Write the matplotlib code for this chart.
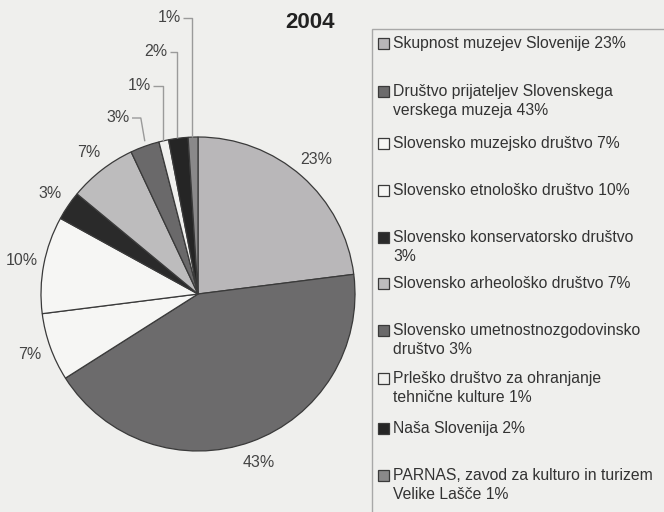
import matplotlib
matplotlib.use("Agg")
import matplotlib.pyplot as plt
from matplotlib.patches import Rectangle
import numpy as np

plt.rcParams['font.family'] = ['Liberation Sans', 'DejaVu Sans']

# ---- data ----
categories = [
    "Skupnost muzejev Slovenije",
    "Društvo prijateljev Slovenskega verskega muzeja",
    "Slovensko muzejsko društvo",
    "Slovensko etnološko društvo",
    "Slovensko konservatorsko društvo",
    "Slovensko arheološko društvo",
    "Slovensko umetnostnozgodovinsko društvo",
    "Prleško društvo za ohranjanje tehnične kulture",
    "Naša Slovenija",
    "PARNAS, zavod za kulturo in turizem Velike Lašče",
]
values = [23, 43, 7, 10, 3, 7, 3, 1, 2, 1]
legend_labels = [
    "Skupnost muzejev Slovenije 23%",
    "Društvo prijateljev Slovenskega\nverskega muzeja 43%",
    "Slovensko muzejsko društvo 7%",
    "Slovensko etnološko društvo 10%",
    "Slovensko konservatorsko društvo\n3%",
    "Slovensko arheološko društvo 7%",
    "Slovensko umetnostnozgodovinsko\ndruštvo 3%",
    "Prleško društvo za ohranjanje\ntehnične kulture 1%",
    "Naša Slovenija 2%",
    "PARNAS, zavod za kulturo in turizem\nVelike Lašče 1%",
]
colors = ["#b9b7b9", "#6c6b6c", "#f6f6f4", "#f6f6f4", "#2a2a2a",
          "#bdbcbd", "#6a696a", "#f0f0ee", "#252525", "#8a898a"]
title = "2004"

BG = "#efefed"
W, H = 664, 512
fig = plt.figure(figsize=(W / 100, H / 100), dpi=100, facecolor=BG)
ax = fig.add_axes([0, 0, 1, 1])
ax.set_facecolor(BG)

def py(y):  # pixel-from-top to data y
    return H - y

cx, cy, R = 198, py(294), 157
wedges, _ = ax.pie(values, colors=colors, startangle=90, counterclock=False,
                   radius=R, center=(cx, cy), frame=True,
                   wedgeprops=dict(edgecolor="#3a3a3a", linewidth=0.9))
ax.set_xlim(0, W)
ax.set_ylim(0, H)
ax.set_aspect('equal')
ax.axis('off')

txtcol = "#444444"
fs_lab = 11.5
# labels for larger slices placed outside along mid-angle
for w, v in zip(wedges[:6], values[:6]):
    ang = np.deg2rad((w.theta1 + w.theta2) / 2)
    d = R * 1.14
    ax.text(cx + d * np.cos(ang), cy + d * np.sin(ang), f"{v}%",
            ha='center', va='center', fontsize=fs_lab, color=txtcol)

# small slices with elbow leader lines
label_pos = {6: (118, 118), 7: (139, 86), 8: (156, 52), 9: (169, 18)}
for i in [6, 7, 8, 9]:
    w = wedges[i]
    ang = np.deg2rad((w.theta1 + w.theta2) / 2)
    ex, ey = cx + R * np.cos(ang), cy + R * np.sin(ang)
    lx, ly = label_pos[i]
    ly = py(ly)
    ax.text(lx, ly, f"{values[i]}%", ha='center', va='center',
            fontsize=fs_lab, color=txtcol)
    x0 = lx + 14
    if i == 6:
        xs, ys = [x0, ex - 4, ex], [ly, ly, ey + 5]
    else:
        xs, ys = [x0, ex - 1, ex - 1], [ly, ly, ey]
    ax.plot(xs, ys, color="#9a9a9a", lw=1.0, solid_capstyle='butt')

ax.text(310, py(22), title, ha='center', va='center', fontsize=16,
        fontweight='bold', color="#222222")

# ---- legend box ----
ax.add_patch(Rectangle((372, -5), 300, py(29) + 5, facecolor=BG,
                       edgecolor="#a8a8a8", lw=1.0))
leg_y = [43, 91, 143, 190, 237, 283, 330, 378, 428, 475]
for lab, col, y in zip(legend_labels, colors, leg_y):
    ax.add_patch(Rectangle((378, py(y) - 5.5), 11, 11, facecolor=col,
                           edgecolor="#3a3a3a", lw=0.9))
    ax.text(393, py(y - 7), lab, ha='left', va='top', fontsize=11.3,
            color="#333333", linespacing=1.36)

fig.savefig("out.png", dpi=100, facecolor=BG)
